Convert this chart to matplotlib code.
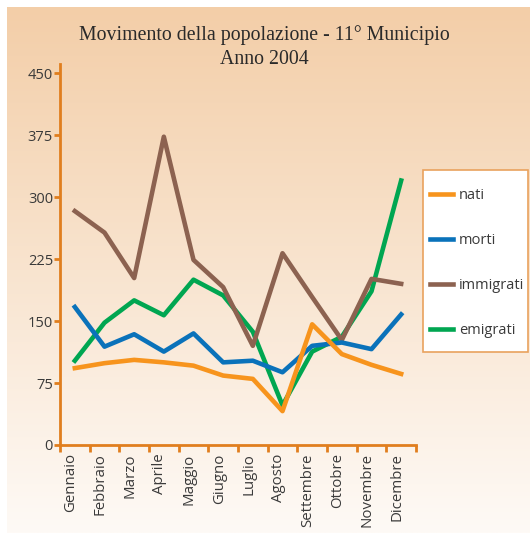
import numpy as np
import matplotlib.pyplot as plt
import matplotlib.transforms as mtransforms
from matplotlib.patches import Rectangle

# Movimento della popolazione - 11° Municipio, anno 2004

mesi = ["Gennaio", "Febbraio", "Marzo", "Aprile", "Maggio", "Giugno",
        "Luglio", "Agosto", "Settembre", "Ottobre", "Novembre", "Dicembre"]

nati = [93, 99, 103, 100, 96, 84, 80, 41, 146, 110, 97, 86]
morti = [167, 119, 134, 113, 135, 100, 102, 88, 120, 124, 116, 158]
immigrati = [283, 257, 202, 373, 224, 191, 120, 232, 179, 127, 201, 195]
emigrati = [102, 148, 175, 157, 200, 181, 137, 48, 113, 131, 186, 320]

y_ticks = [0, 75, 150, 225, 300, 375, 450]

orange_axis = "#E07E1E"
text_col = "#3a3a3a"

W, H = 530, 533
fig = plt.figure(figsize=(W / 100, H / 100), dpi=100)

# -----------------------------
# background panel (gradient)
# -----------------------------
bg = fig.add_axes([7 / W, 0, 1 - 7 / W, 1 - 7 / H], zorder=-10)
top = np.array([243, 206, 168]) / 255
bottom = np.array([254, 250, 246]) / 255
t = np.linspace(0, 1, 256)[:, None]
grad = top * (1 - t[..., None]) + bottom * t[..., None]
grad = np.repeat(grad, 2, axis=1)
bg.imshow(grad, aspect="auto", extent=[0, 1, 0, 1])
bg.set_axis_off()

# -----------------------------
# main plot
# -----------------------------
ax = fig.add_axes([60 / W, 88 / H, 356 / W, 381 / H])
ax.patch.set_alpha(0)

x = np.arange(len(mesi))
ax.plot(x, emigrati, color="#00A651", lw=3.3, label="emigrati", zorder=2)
ax.plot(x, immigrati, color="#8C6250", lw=3.3, label="immigrati", zorder=3)
ax.plot(x, morti, color="#0A72BA", lw=3.3, label="morti", zorder=4)
ax.plot(x, nati, color="#F7941D", lw=3.3, label="nati", zorder=5)

ax.set_xlim(-0.5, len(mesi) - 0.5)
ax.set_ylim(0, 461)

for s in ["top", "right"]:
    ax.spines[s].set_visible(False)
for s in ["left", "bottom"]:
    ax.spines[s].set_color(orange_axis)
    ax.spines[s].set_linewidth(2)

ax.set_yticks(y_ticks)
ax.set_yticklabels([str(v) for v in y_ticks])
ax.tick_params(axis="y", colors=orange_axis, length=4, width=2, pad=1,
               labelcolor=text_col, labelsize=10.5)
for lab in ax.get_yticklabels():
    lab.set_family("Open Sans")

# ticks at boundaries, labels at centers
ax.set_xticks(np.arange(len(mesi) + 1) - 0.5)
ax.set_xticklabels([])
ax.set_xticks(x, minor=True)
ax.set_xticklabels(mesi, minor=True, rotation=90, fontsize=10.8, color=text_col,
                   family="Open Sans")
ax.tick_params(axis="x", which="major", colors=orange_axis, length=5, width=2)
ax.tick_params(axis="x", which="minor", length=0, pad=6)
shift = mtransforms.ScaledTranslation(-4 / 100, 0, fig.dpi_scale_trans)
for lab in ax.get_xticklabels(minor=True):
    lab.set_transform(lab.get_transform() + shift)

# -----------------------------
# legend (box drawn separately)
# -----------------------------
box = Rectangle((423 / W, 1 - 352 / H), 105 / W, 182 / H,
                transform=fig.transFigure, facecolor="white",
                edgecolor="#E9A25E", linewidth=1.2, zorder=5)
fig.patches.append(box)

order = ["nati", "morti", "immigrati", "emigrati"]
handles, labels = ax.get_legend_handles_labels()
hmap = dict(zip(labels, handles))
leg = fig.legend([hmap[k] for k in order], order,
                 loc="upper left", bbox_to_anchor=(430 / W, 1 - 188 / H),
                 borderaxespad=0, frameon=False, borderpad=0,
                 handlelength=1.6, handletextpad=0.4,
                 labelspacing=2.05,
                 prop={"family": "Open Sans", "size": 10.5})
leg.set_zorder(6)
for txt in leg.get_texts():
    txt.set_color(text_col)

# -----------------------------
# title
# -----------------------------
fig.text(264 / W, 1 - 47 / H,
         "Movimento della popolazione - 11° Municipio\nAnno 2004",
         ha="center", va="center", fontsize=14.3, family="Liberation Serif",
         color="#2a2a2a", linespacing=1.35)

fig.savefig("out.png", dpi=100)
